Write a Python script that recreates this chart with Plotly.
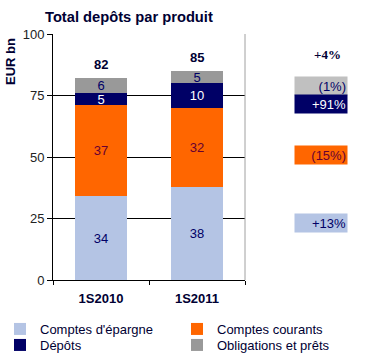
import plotly.graph_objects as go

categories = ["1S2010", "1S2011"]
series_names = ["Comptes d'épargne", "Comptes courants", "Dépôts", "Obligations et prêts"]
epargne = [34, 38]
courants = [37, 32]
depots = [5, 10]
obligations = [6, 5]
totals = [82, 85]
changes = ["(1%)", "+91%", "(15%)", "+13%"]
change_y = [78.7, 71.5, 50.8, 23.1]
total_change = "+4%"

colors = ["#B4C4E4", "#FF6600", "#000066", "#999999"]
box_colors = ["#C0C0C0", "#000066", "#FF6600", "#B4C4E4"]
label_colors = ["#000066", "#660033", "#FFFFFF", "#000066"]
box_text_colors = ["#000066", "#FFFFFF", "#660033", "#000066"]
legend_ids = ["legend", "legend2", "legend3", "legend4"]
legend_pos = [(0, 329), (177, 329), (0, 345), (177, 345)]

W, H = 386, 361
ML, MR, MT, MB = 53, 10, 34, 81
pw = W - ML - MR
dom_end = (245 - ML) / pw

fig = go.Figure()
for name, vals, col, lc, lg in zip(series_names, [epargne, courants, depots, obligations], colors, label_colors, legend_ids):
    fig.add_trace(go.Bar(
        x=categories, y=vals, name=name, marker=dict(color=col, line=dict(width=0)),
        text=[str(v) for v in vals], textposition="inside", insidetextanchor="middle",
        textfont=dict(color=lc, size=13, family="Liberation Sans"),
        textangle=0, cliponaxis=False, legend=lg, showlegend=True,
    ))

annotations = []
for c, t in zip(categories, totals):
    annotations.append(dict(x=c, y=t + 5.5, xref="x", yref="y", text=f"<b>{t}</b>", showarrow=False,
                            xanchor="center",
                            font=dict(size=13, color="#000033", family="Liberation Sans")))

xpix = 321
xp = (xpix - ML) / pw
for txt, yv, bc, tc in zip(changes, change_y, box_colors, box_text_colors):
    annotations.append(dict(x=xp, y=yv, xref="paper", yref="y", text=txt, showarrow=False,
                            xanchor="center", yanchor="middle",
                            bgcolor=bc, width=50, height=16, align="right", borderpad=1,
                            font=dict(size=13, color=tc, family="Liberation Sans")))
annotations.append(dict(x=(327 - ML) / pw, y=(280 - 54) / 2.46, xref="paper", yref="y",
                        text=f"<b>{total_change}</b>", showarrow=False, xanchor="center",
                        font=dict(size=13, color="#000033", family="Liberation Serif")))
annotations.append(dict(x=(11 - ML) / pw, y=(280 - 62) / 246, xref="paper", yref="paper",
                        text="<b>EUR bn</b>", textangle=-90, showarrow=False,
                        xanchor="center", yanchor="middle",
                        font=dict(size=13, color="#000033", family="Liberation Sans")))

leg_common = dict(orientation="v", yref="container", xref="container", yanchor="middle", xanchor="left",
                  font=dict(size=13, color="#000033", family="Liberation Sans"),
                  itemwidth=30, traceorder="normal", tracegroupgap=0, bgcolor="rgba(0,0,0,0)")
legends = {lid: dict(x=px / W, y=1 - py / H, **leg_common) for lid, (px, py) in zip(legend_ids, legend_pos)}

fig.update_layout(
    width=W, height=H,
    showlegend=True,
    margin=dict(l=ML, r=MR, t=MT, b=MB, autoexpand=False),
    paper_bgcolor="white", plot_bgcolor="white",
    barmode="stack", bargap=0.45,
    uniformtext=dict(mode="show", minsize=13),
    title=dict(text="<b>Total depôts par produit</b>", x=45 / W, xanchor="left", y=1 - 17 / H, yanchor="middle",
               font=dict(size=14.7, color="#000033", family="Liberation Sans")),
    font=dict(family="Liberation Sans", size=13, color="#000000"),
    xaxis=dict(domain=[0, dom_end], showline=True, linecolor="black", linewidth=1,
               ticks="outside", tickson="boundaries", ticklen=4, tickcolor="black",
               ticklabelstandoff=6,
               tickfont=dict(size=13, color="#000033", family="Liberation Sans"),
               tickprefix="<b>", ticksuffix="</b>", showgrid=False),
    yaxis=dict(range=[0, 100], tickvals=[0, 25, 50, 75, 100], showline=True, linecolor="black",
               ticks="outside", ticklen=5, tickcolor="black", showgrid=True, gridcolor="black",
               gridwidth=1, zeroline=False, tickfont=dict(size=13, color="#222222")),
    annotations=annotations,
    shapes=[dict(type="line", xref="x domain", yref="y domain", x0=1, x1=1, y0=0, y1=1,
                 line=dict(color="#A0A0A0", width=1))],
    **legends,
)
fig.write_html("out.html", post_script="document.body.style.margin='0';",
               config={"displayModeBar": False})
